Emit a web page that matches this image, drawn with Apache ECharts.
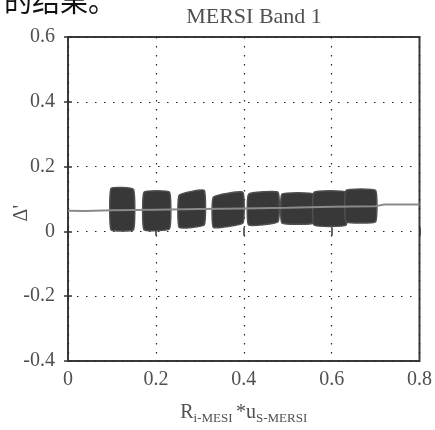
<!DOCTYPE html>
<html>
<head>
<meta charset="utf-8">
<script src="https://cdn.jsdelivr.net/npm/echarts@6/dist/echarts.min.js"></script>
<style>
  html, body { margin: 0; padding: 0; background: #fff; }
  #chart { width: 435px; height: 430px; }
</style>
</head>
<body>
<div id="chart"></div>
<script>
  // cluster extents (x start/end, bottom/top at left and right edge)
  const clusterStart = [0.098, 0.173, 0.253, 0.331, 0.411, 0.487, 0.560, 0.633];
  const clusterEnd = [0.149, 0.231, 0.310, 0.398, 0.478, 0.560, 0.633, 0.700];
  const clusterBottomL = [0.005, 0.005, 0.012, 0.012, 0.020, 0.026, 0.020, 0.030];
  const clusterTopL = [0.133, 0.121, 0.112, 0.106, 0.115, 0.115, 0.121, 0.127];
  const clusterBottomR = [0.005, 0.008, 0.020, 0.026, 0.030, 0.026, 0.020, 0.030];
  const clusterTopR = [0.130, 0.121, 0.127, 0.121, 0.121, 0.115, 0.121, 0.127];

  // fitted line
  const lineX = [0, 0.04, 0.1, 0.2, 0.3, 0.4, 0.5, 0.6, 0.7, 0.72, 0.8];
  const lineY = [0.064, 0.063, 0.065, 0.067, 0.069, 0.071, 0.073, 0.076, 0.078, 0.083, 0.083];

  const xTicks = [0, 0.2, 0.4, 0.6, 0.8];

  const serif = '"Liberation Serif", "DejaVu Serif", serif';
  const textGray = '#505050';

  const clusters = clusterStart.map((x0, i) => [x0, clusterEnd[i], clusterBottomL[i], clusterTopL[i], clusterBottomR[i], clusterTopR[i]]);
  const lineData = lineX.map((x, i) => [x, lineY[i]]);

  const dotted = { type: [1.5, 7.5], color: '#222', width: 1.2 };
  const tick = { show: true, inside: true, length: 4, lineStyle: { color: '#333', width: 1.5 } };

  const option = {
    animation: false,
    backgroundColor: '#fff',
    title: {
      text: 'MERSI Band 1',
      left: 249,
      textAlign: 'center',
      top: 1,
      textStyle: { fontFamily: serif, fontSize: 22, fontWeight: 'normal', color: textGray }
    },
    graphic: [
      {
        type: 'text',
        left: -24,
        top: -13,
        style: { text: '析的结果。', font: '28px "Noto Sans CJK SC"', fill: '#111' }
      },
      {
        type: 'text',
        left: 12,
        top: 205,
        rotation: Math.PI / 2,
        style: { text: "Δ'", font: '20px ' + serif, fill: textGray }
      }
    ],
    grid: {
      left: 68, right: 7, top: 37, bottom: 63,
      show: true, borderColor: '#3a3a3a', borderWidth: 2, backgroundColor: 'transparent'
    },
    xAxis: [
      {
        type: 'value', min: 0, max: 0.8, interval: 0.2,
        name: '{n|R}{s|i-MESI} {n|*u}{s|S-MERSI}',
        nameLocation: 'middle', nameGap: 39,
        nameTextStyle: {
          rich: {
            n: { fontFamily: serif, fontSize: 20, color: textGray },
            s: { fontFamily: serif, fontSize: 13, color: textGray, padding: [12, 0, 0, 0] }
          }
        },
        axisLine: { show: false },
        axisTick: tick,
        axisLabel: { margin: 9, fontFamily: serif, fontSize: 20, color: textGray,
          formatter: v => xTicks.includes(+v.toFixed(2)) ? String(+v.toFixed(2)) : '' },
        splitLine: { show: true, lineStyle: dotted }
      },
      {
        type: 'value', min: 0, max: 0.8, interval: 0.2, position: 'top',
        axisLine: { show: false }, axisTick: tick,
        axisLabel: { show: false }, splitLine: { show: false }
      }
    ],
    yAxis: [
      {
        type: 'value', min: -0.4, max: 0.6, interval: 0.2,
        axisLine: { show: false },
        axisTick: tick,
        axisLabel: { margin: 13, fontFamily: serif, fontSize: 20, color: textGray,
          formatter: v => String(+v.toFixed(2)) },
        splitLine: { show: true, lineStyle: dotted }
      },
      {
        type: 'value', min: -0.4, max: 0.6, interval: 0.2, position: 'right',
        axisLine: { show: false }, axisTick: tick,
        axisLabel: { show: false }, splitLine: { show: false }
      }
    ],
    series: [
      {
        type: 'custom',
        data: clusters,
        renderItem: function (params, api) {
          const x0 = api.value(0), x1 = api.value(1);
          const pts = [
            api.coord([x0, api.value(2)]),
            api.coord([x1, api.value(4)]),
            api.coord([x1, api.value(5)]),
            api.coord([x0, api.value(3)])
          ];
          return {
            type: 'polygon',
            shape: { points: pts, smooth: 0.12 },
            style: { fill: '#383838', stroke: '#505050', lineWidth: 1.5 }
          };
        },
        z: 2
      },
      {
        type: 'line',
        data: lineData,
        showSymbol: false,
        lineStyle: { color: '#8a8a8a', width: 2 },
        z: 3
      }
    ]
  };

  const chart = echarts.init(document.getElementById('chart'), null, { renderer: 'canvas' });
  chart.setOption(option);
</script>
</body>
</html>
